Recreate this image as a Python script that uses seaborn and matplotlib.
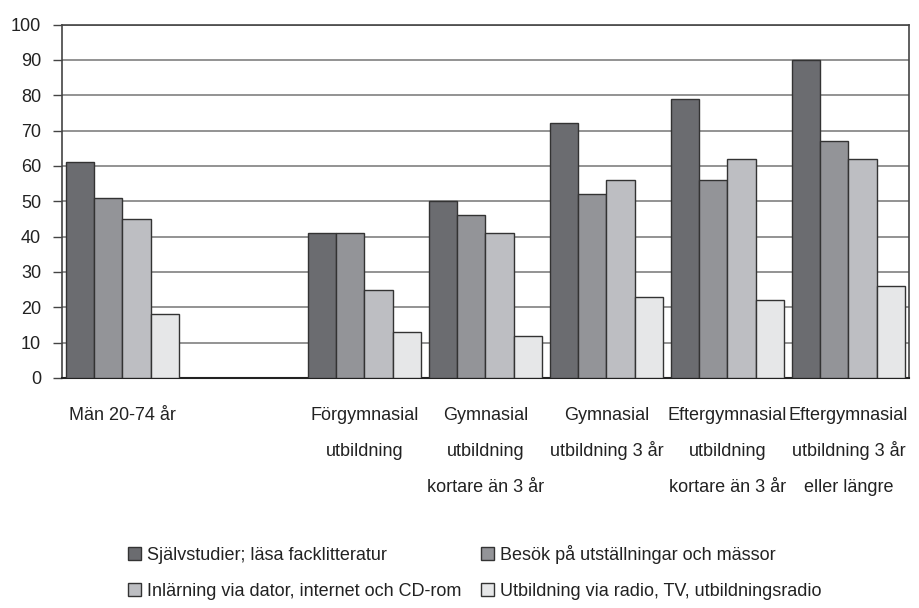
import matplotlib
matplotlib.use("Agg")
import matplotlib.pyplot as plt
import seaborn as sns
import pandas as pd

categories = ["Män 20-74 år", " ",
              "Förgymnasial\nutbildning",
              "Gymnasial\nutbildning\nkortare än 3 år",
              "Gymnasial\nutbildning 3 år",
              "Eftergymnasial\nutbildning\nkortare än 3 år",
              "Eftergymnasial\nutbildning 3 år\neller längre"]
series = ["Självstudier; läsa facklitteratur",
          "Besök på utställningar och mässor",
          "Inlärning via dator, internet och CD-rom",
          "Utbildning via radio, TV, utbildningsradio"]
sjalvstudier = [61, None, 41, 50, 72, 79, 90]
besok = [51, None, 41, 46, 52, 56, 67]
inlarning = [45, None, 25, 41, 56, 62, 62]
radio_tv = [18, None, 13, 12, 23, 22, 26]
colors = ["#6b6c70", "#939498", "#bdbec2", "#e6e7e8"]
yticks = list(range(0, 101, 10))

rows = []
for s, vals in zip(series, [sjalvstudier, besok, inlarning, radio_tv]):
    for c, v in zip(categories, vals):
        if v is not None:
            rows.append({"cat": c, "serie": s, "val": v})
df = pd.DataFrame(rows)

sns.set_style("white")
plt.rcParams["font.family"] = ["Liberation Sans", "DejaVu Sans"]

fig = plt.figure(figsize=(9.2, 6.08), dpi=100)
ax = fig.add_axes([62/920, 1-378/608, 847/920, 353.5/608])

sns.barplot(data=df, x="cat", y="val", hue="serie", order=categories,
            hue_order=series, palette=colors, width=0.93, gap=0,
            edgecolor="#333333", linewidth=1.0, ax=ax, saturation=1, zorder=3)

ax.set_ylim(0, 100)
ax.set_xlim(-0.5, len(categories) - 0.5)
ax.set_yticks(yticks)
ax.set_xlabel("")
ax.set_ylabel("")
ax.yaxis.grid(True, color="#8a8a8a", linewidth=1.3, zorder=0)
ax.set_axisbelow(True)
for sp in ax.spines.values():
    sp.set_visible(True)
    sp.set_color("#444444")
    sp.set_linewidth(1.2)
ax.spines["bottom"].set_color("#222222")
ax.spines["bottom"].set_linewidth(1.5)
ax.tick_params(axis="y", left=True, length=6.5, width=1.0, color="#444444",
               pad=8.5, labelsize=13, labelcolor="#222222")

# category labels: one text per line for even line spacing
ticks = ax.get_xticks()
ax.set_xticks(ticks)
ax.set_xticklabels([""] * len(ticks))
ax.tick_params(axis="x", bottom=False, length=0)
line_px = 36
for t, cat in zip(ticks, categories):
    for i, line in enumerate(cat.split("\n")):
        ax.annotate(line, xy=(t, 0), xycoords=("data", "axes fraction"),
                    xytext=(0, -(37 + i * line_px) * 0.72),
                    textcoords="offset points", ha="center", va="center",
                    fontsize=13, color="#222222")

handles, labels = ax.get_legend_handles_labels()
ax.get_legend().remove()
order = [0, 2, 1, 3]
fig.legend([handles[i] for i in order], [labels[i] for i in order],
           ncol=2, loc="upper left", bbox_to_anchor=(128/920, 1-545/608),
           frameon=False, fontsize=13, handlelength=0.7, handleheight=0.7,
           handletextpad=0.35, columnspacing=1.1, labelspacing=1.05,
           borderaxespad=0, borderpad=0, labelcolor="#222222")

fig.savefig("out.png", dpi=100)
